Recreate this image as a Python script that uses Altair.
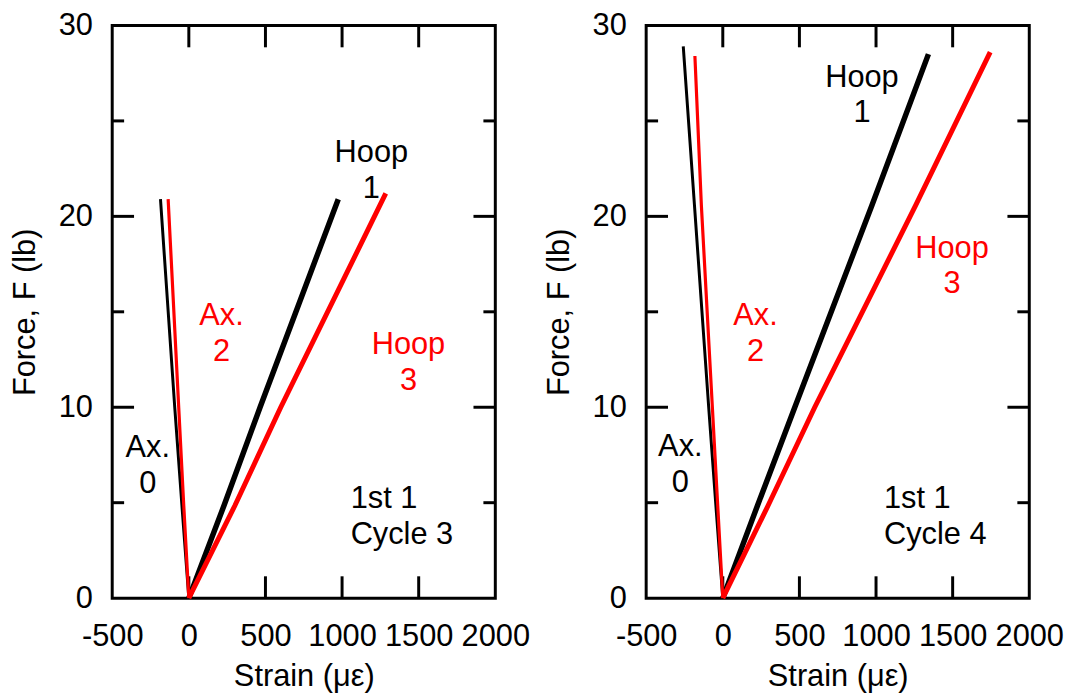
import altair as alt
import pandas as pd

FONT = "Liberation Sans"
FS = 31

# ---------------- data: Cycle 3 (left panel) ----------------
c3_ax0_strain = [0, -45, -92, -185]
c3_ax0_force = [0, 4.84, 10.0, 20.9]
c3_ax2_strain = [0, -33, -66, -135]
c3_ax2_force = [0, 4.84, 10.0, 20.9]
c3_hoop1_strain = [0, 229, 465, 975]
c3_hoop1_force = [0, 4.84, 10.0, 20.9]
c3_hoop3_strain = [0, 300, 600, 1285]
c3_hoop3_force = [0, 4.84, 10.0, 21.2]

# ---------------- data: Cycle 4 (right panel) ----------------
c4_ax0_strain = [0, -45, -92, -185, -258]
c4_ax0_force = [0, 4.84, 10.0, 20.6, 28.9]
c4_ax2_strain = [0, -33, -68, -140, -182]
c4_ax2_force = [0, 4.84, 10.0, 20.6, 28.4]
c4_hoop1_strain = [0, 226, 470, 974, 1342]
c4_hoop1_force = [0, 4.84, 10.0, 20.6, 28.5]
c4_hoop3_strain = [0, 295, 600, 1260, 1745]
c4_hoop3_force = [0, 4.84, 10.0, 20.6, 28.6]

# ---------------- annotations (position = first text line) ----------------
label_text = ["Ax.\n0", "Ax.\n2", "Hoop\n1", "Hoop\n3"]
label_color = ["black", "red", "black", "red"]
c3_label_strain = [-268, 213, 1191, 1433]
c3_label_force = [7.85, 14.77, 23.29, 13.26]
c4_label_strain = [-277, 214, 908, 1496]
c4_label_force = [7.9, 14.77, 27.27, 18.3]
c3_note = ["1st 1\nCycle 3"]
c3_note_strain = [1056]
c3_note_force = [5.2]
c4_note = ["1st 1\nCycle 4"]
c4_note_strain = [1052]
c4_note_force = [5.2]

# ---------------- axes ----------------
x_ticks = [-500, 0, 500, 1000, 1500, 2000]
y_ticks = [0, 10, 20, 30]
x_inner_ticks = [0, 500, 1000, 1500]
y_major_inner = [10, 20]
y_minor_inner = [5, 15, 25]

W, H = 386, 577
MAJ, MIN = 22, 12

xs = alt.Scale(domain=[-500, 2000], nice=False, zero=False)
ys = alt.Scale(domain=[0, 30], nice=False)
xaxis = alt.Axis(values=x_ticks, ticks=False, domain=False, grid=False,
                 labelExpr="'' + datum.value",
                 labelFontSize=FS, labelFont=FONT, labelColor="black",
                 labelPadding=24, labelFlush=False, labelOverlap=False,
                 title="Strain (\u03bc\u03b5)", titleFontSize=FS, titleFont=FONT,
                 titleFontWeight="normal", titleColor="black", titlePadding=10)
yaxis = alt.Axis(values=y_ticks, ticks=False, domain=False, grid=False,
                 labelExpr="'' + datum.value",
                 labelFontSize=FS, labelFont=FONT, labelColor="black",
                 labelPadding=20, labelFlush=False, labelOverlap=False,
                 title="Force, F (lb)", titleFontSize=FS, titleFont=FONT,
                 titleFontWeight="normal", titleColor="black", titlePadding=17)


def X():
    return alt.X("strain:Q", scale=xs, axis=xaxis)


def Y():
    return alt.Y("force:Q", scale=ys, axis=yaxis)


def line_layer(strain, force, color, width):
    df = pd.DataFrame({"strain": strain, "force": force, "i": range(len(strain))})
    return alt.Chart(df).mark_line(color=color, strokeWidth=width).encode(
        x=X(), y=Y(), order="i:O")


def panel(series, lab_x, lab_y, note, note_x, note_y):
    layers = []
    xt = pd.DataFrame({"strain": x_inner_ticks})
    layers.append(alt.Chart(xt).mark_rule(color="black", strokeWidth=3).encode(
        x=X(), y=alt.value(0), y2=alt.value(MAJ)))
    layers.append(alt.Chart(xt).mark_rule(color="black", strokeWidth=3).encode(
        x=X(), y=alt.value(H), y2=alt.value(H - MAJ)))
    for vals, ln in ((y_major_inner, MAJ), (y_minor_inner, MIN)):
        yt = pd.DataFrame({"force": vals})
        layers.append(alt.Chart(yt).mark_rule(color="black", strokeWidth=3).encode(
            y=Y(), x=alt.value(0), x2=alt.value(ln)))
        layers.append(alt.Chart(yt).mark_rule(color="black", strokeWidth=3).encode(
            y=Y(), x=alt.value(W), x2=alt.value(W - ln)))
    for (s, f, c, w) in series:
        layers.append(line_layer(s, f, c, w))
    ldf = pd.DataFrame({"strain": lab_x, "force": lab_y, "t": label_text, "c": label_color})
    layers.append(alt.Chart(ldf).mark_text(fontSize=FS, font=FONT, lineBreak="\n",
                                           lineHeight=36, align="center", baseline="middle").encode(
        x=X(), y=Y(), text="t:N", color=alt.Color("c:N", scale=None)))
    ndf = pd.DataFrame({"strain": note_x, "force": note_y, "t": note})
    layers.append(alt.Chart(ndf).mark_text(fontSize=FS, font=FONT, lineBreak="\n",
                                           lineHeight=36, align="left", baseline="middle",
                                           color="black").encode(
        x=X(), y=Y(), text="t:N"))
    return alt.layer(*layers).properties(width=W, height=H)


left = panel([
    (c3_ax0_strain, c3_ax0_force, "black", 3),
    (c3_hoop1_strain, c3_hoop1_force, "black", 5.5),
    (c3_ax2_strain, c3_ax2_force, "red", 3.2),
    (c3_hoop3_strain, c3_hoop3_force, "red", 5),
], c3_label_strain, c3_label_force, c3_note, c3_note_strain, c3_note_force)

right = panel([
    (c4_ax0_strain, c4_ax0_force, "black", 3),
    (c4_hoop1_strain, c4_hoop1_force, "black", 5.5),
    (c4_ax2_strain, c4_ax2_force, "red", 3.2),
    (c4_hoop3_strain, c4_hoop3_force, "red", 5),
], c4_label_strain, c4_label_force, c4_note, c4_note_strain, c4_note_force)

chart = alt.hconcat(left, right, spacing=152, bounds="flush").properties(
    padding={"left": 0, "top": -3, "right": 0, "bottom": 0}
).configure_view(stroke="black", strokeWidth=3)

chart.save("out.html", embed_options={"renderer": "svg", "actions": False})
